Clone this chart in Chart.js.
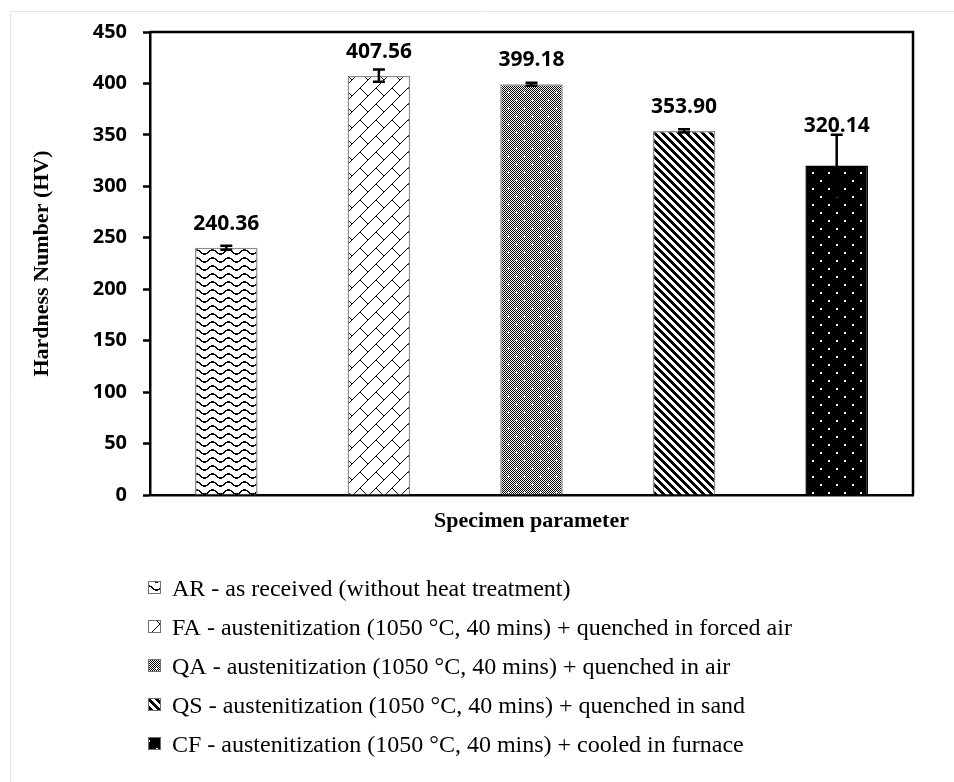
<!DOCTYPE html>
<html>
<head>
<meta charset="utf-8">
<script src="https://cdn.jsdelivr.net/npm/chart.js@4/dist/chart.umd.min.js"></script>
<style>
  html, body { margin: 0; padding: 0; background: #ffffff; }
  canvas { display: block; }
</style>
</head>
<body>
<canvas id="hardness" width="954" height="782"></canvas>
<script>
// Specimen codes and their treatment descriptions
const codes = ['AR', 'FA', 'QA', 'QS', 'CF'];
const descriptions = [
  'AR - as received (without heat treatment)',
  'FA - austenitization (1050 \u00B0C, 40 mins) + quenched in forced air',
  'QA - austenitization (1050 \u00B0C, 40 mins) + quenched in air',
  'QS - austenitization (1050 \u00B0C, 40 mins) + quenched in sand',
  'CF - austenitization (1050 \u00B0C, 40 mins) + cooled in furnace'
];
// Vickers hardness (HV) and standard deviation
const hardness = [240.36, 407.56, 399.18, 353.90, 320.14];
const hardnessError = [2, 6, 1.5, 1.5, 30];
// Value axis ticks
const yMin = 0;
const yMax = 450;
const yStep = 50;

// ---- fill patterns, one per specimen ----
function makePattern(w, h, isDark, inverted) {
  const c = document.createElement('canvas');
  c.width = w; c.height = h;
  const g = c.getContext('2d');
  const img = g.createImageData(w, h);
  for (let y = 0; y < h; y++) {
    for (let x = 0; x < w; x++) {
      let dark = isDark(x, y);
      if (inverted) dark = !dark;
      const i = (y * w + x) * 4;
      const v = dark ? 0 : 255;
      img.data[i] = v; img.data[i + 1] = v; img.data[i + 2] = v; img.data[i + 3] = 255;
    }
  }
  g.putImageData(img, 0, 0);
  return g.createPattern(c, 'repeat');
}
const patterns = [
  // wave
  makePattern(16, 8, (x, y) => {
    const yc = 3.5 - 2 * Math.sin(2 * Math.PI * x / 16);
    return Math.abs(y - yc) < 0.85;
  }),
  // diagonal brick
  makePattern(16, 16, (x, y) => ((x + y) % 16 === 15) || (x === y && x >= 8)),
  // small checker with light diamonds
  makePattern(16, 16, (x, y) => {
    if (Math.abs(x - 4) + Math.abs(y - 4) <= 1) return false;
    if (Math.abs(x - 12) + Math.abs(y - 12) <= 1) return false;
    return (x + y) % 2 === 0;
  }),
  // wide downward diagonal
  makePattern(8, 8, (x, y) => ((x - y + 64) % 8) < 4),
  // dotted black
  makePattern(16, 16, (x, y) => ((y === 4 || y === 5) && (x === 4 || x === 5)) ||
                                ((y === 12 || y === 13) && (x === 12 || x === 13)), true)
];
const borderColors = ['#8c8c8c', '#8c8c8c', '#8c8c8c', '#8c8c8c', '#000000'];

const serifBold = { family: '"Liberation Serif", "Times New Roman", serif', size: 22, weight: 'bold' };
const sansBold = '"Open Sans", "Liberation Sans", sans-serif';

// white page with light outer edge
const pagePlugin = {
  id: 'page',
  beforeDraw(chart) {
    const ctx = chart.ctx;
    ctx.save();
    ctx.fillStyle = '#ffffff';
    ctx.fillRect(0, 0, chart.width, chart.height);
    ctx.strokeStyle = '#e9e6dc';
    ctx.lineWidth = 1;
    ctx.beginPath();
    ctx.moveTo(10.5, chart.height);
    ctx.lineTo(10.5, 11.5);
    ctx.lineTo(chart.width, 11.5);
    ctx.stroke();
    ctx.restore();
  }
};

// error bars and value labels
const errorLabelPlugin = {
  id: 'errorLabels',
  afterDatasetsDraw(chart) {
    const ctx = chart.ctx;
    const yScale = chart.scales.y;
    const meta = chart.getDatasetMeta(0);
    ctx.save();
    meta.data.forEach((bar, i) => {
      const v = hardness[i];
      const e = hardnessError[i];
      const yTop = yScale.getPixelForValue(v + e);
      const yBot = yScale.getPixelForValue(v - e);
      ctx.strokeStyle = '#000';
      ctx.lineWidth = 2.5;
      ctx.beginPath();
      ctx.moveTo(bar.x, yTop); ctx.lineTo(bar.x, yBot);
      ctx.moveTo(bar.x - 6, yTop); ctx.lineTo(bar.x + 6, yTop);
      ctx.moveTo(bar.x - 6, yBot); ctx.lineTo(bar.x + 6, yBot);
      ctx.stroke();

      const barTop = yScale.getPixelForValue(v);
      const base = Math.min(barTop - 18, yTop - 3);
      ctx.fillStyle = '#000';
      ctx.font = 'bold 21px ' + sansBold;
      ctx.textAlign = 'center';
      ctx.textBaseline = 'alphabetic';
      ctx.fillText(v.toFixed(2), bar.x, base);
    });
    ctx.restore();
  }
};

// top and right frame of the plot + legend list
const framePlugin = {
  id: 'frameLegend',
  afterDraw(chart) {
    const ctx = chart.ctx;
    const a = chart.chartArea;
    ctx.save();
    ctx.strokeStyle = '#000';
    ctx.lineWidth = 2.5;
    ctx.beginPath();
    ctx.moveTo(a.left, a.top);
    ctx.lineTo(a.right, a.top);
    ctx.lineTo(a.right, a.bottom);
    ctx.stroke();

    const x0 = 148;
    const firstBase = 596;
    const rowGap = 39;
    ctx.font = '24px "Liberation Serif", "Times New Roman", serif';
    ctx.textAlign = 'left';
    ctx.textBaseline = 'alphabetic';
    descriptions.forEach((txt, i) => {
      const base = firstBase + i * rowGap;
      ctx.fillStyle = patterns[i];
      ctx.fillRect(x0, base - 15, 13, 13);
      ctx.strokeStyle = '#6f6f6f';
      ctx.lineWidth = 1;
      ctx.strokeRect(x0 + 0.5, base - 14.5, 12, 12);
      ctx.fillStyle = '#000';
      ctx.fillText(txt, x0 + 24, base);
    });
    ctx.restore();
  }
};

new Chart(document.getElementById('hardness'), {
  type: 'bar',
  data: {
    labels: codes,
    datasets: [{
      data: hardness,
      backgroundColor: patterns,
      borderColor: borderColors,
      borderWidth: 1.5,
      categoryPercentage: 1,
      barPercentage: 0.41
    }]
  },
  options: {
    responsive: false,
    devicePixelRatio: 1,
    animation: false,
    layout: { padding: { left: 0, top: 32, right: 41, bottom: 247 } },
    plugins: {
      legend: { display: false },
      tooltip: { enabled: false }
    },
    scales: {
      x: {
        afterFit(s) { s.height = 40; },
        grid: { display: false },
        border: { display: true, color: '#000', width: 2.5 },
        ticks: { display: false },
        title: {
          display: true,
          text: 'Specimen parameter',
          color: '#000',
          font: serifBold,
          padding: { top: 0, bottom: 0 }
        }
      },
      y: {
        min: yMin,
        max: yMax,
        afterFit(s) { s.width = 150; },
        grid: { drawOnChartArea: false, drawTicks: true, tickLength: 7, tickWidth: 2.5, tickColor: '#000' },
        border: { display: true, color: '#000', width: 2.5 },
        ticks: {
          stepSize: yStep,
          padding: 16,
          color: '#000',
          font: { family: sansBold, size: 20, weight: 'bold' }
        },
        title: {
          display: true,
          text: 'Hardness Number (HV)',
          color: '#000',
          font: serifBold,
          padding: { top: 29, bottom: 0 }
        }
      }
    }
  },
  plugins: [pagePlugin, errorLabelPlugin, framePlugin]
});
</script>
</body>
</html>
